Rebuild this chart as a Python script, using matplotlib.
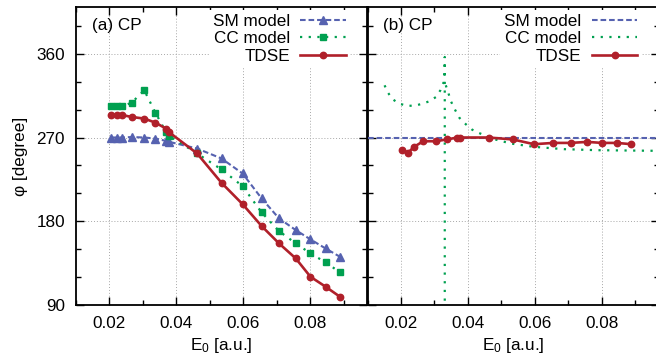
import numpy as np
import matplotlib
matplotlib.use("Agg")
import matplotlib.pyplot as plt

plt.rcParams['font.family'] = ['Liberation Sans', 'DejaVu Sans']
plt.rcParams['mathtext.default'] = 'regular'

# ---------------- data ----------------
E0 = [0.0204, 0.0222, 0.0239, 0.0267, 0.0304, 0.0337, 0.0369, 0.0377, 0.0462,
      0.0535, 0.0598, 0.0655, 0.0707, 0.0757, 0.0801, 0.0846, 0.0889]

sm_a = [270, 270, 270, 270.5, 270, 268.9, 266.4, 265.5, 258.2, 247.5, 231.4,
        204.6, 183.2, 170.7, 160.7, 151, 142.1]
cc_a = [303.5, 303.5, 303.5, 307.5, 320.7, 296.8, 276, 272, 252.9, 235.7,
        217.8, 189.6, 169.6, 156.4, 145.7, 136.1, 125.4]
tdse_a = [294, 294, 294, 292, 290.3, 286, 279.6, 276, 252.9, 221.4, 198.5,
          175, 156.4, 140.3, 120.6, 110, 99.2]

tdse_b = [256.4, 253.9, 260, 266, 266, 267.9, 270, 270, 270, 267.9, 262.8,
          264.2, 264.2, 265.3, 264.2, 264.2, 262.8]

sm_b_E = [0.005, 0.1]
sm_b = [270, 270]

# CC model (b): branch left of the pole (ends with the wrap below the axis)
cc_b_left_E = [0.0151, 0.0161, 0.0175, 0.0195, 0.0218, 0.0243, 0.0266, 0.0285,
               0.0305, 0.0318, 0.0328, 0.0330, 0.0331, 0.0331]
cc_b_left = [326, 318.2, 311, 306.4, 303.9, 304.3, 306.4, 308.9,
             313.5, 320.7, 329.6, 338.6, 356.4, 0]
# CC model (b): branch right of the pole
cc_b_right_E = [0.0334, 0.0341, 0.0348, 0.0355, 0.0364, 0.0375, 0.0394, 0.0412,
                0.0432, 0.0482, 0.0528, 0.0597, 0.0687, 0.0787, 0.0970, 0.1]
cc_b_right = [326, 318.9, 310, 304.6, 298.2, 291, 284.2, 278.6,
              275, 267.9, 263.6, 260, 257.5, 256.4, 255.7, 255.7]

xticks = [0.02, 0.04, 0.06, 0.08]
xticklabels = ['0.02', '0.04', '0.06', '0.08']
yticks = [90, 180, 270, 360]
yticklabels = ['90', '180', '270', '360']

# ---------------- style ----------------
C_SM = '#5662b0'
C_CC = '#00a050'
C_TD = '#b0202a'
FS = 12.3
DASH = (0, (2.7, 1.4))
DOT = (0, (1, 2.9))

W, H = 656, 360
fig = plt.figure(figsize=(W / 100, H / 100), dpi=100)

bottom = 1 - 305.3 / H
top = 1 - 7 / H
axw = 291 / W
ax1 = fig.add_axes([76 / W, bottom, axw, top - bottom])
ax2 = fig.add_axes([367.5 / W, bottom, axw, top - bottom])

for ax in (ax1, ax2):
    ax.set_xlim(0.01, 0.097)
    ax.set_ylim(90, 410)
    ax.set_xticks(xticks)
    ax.set_xticklabels(xticklabels)
    ax.set_xticks(np.arange(0.01, 0.0971, 0.01), minor=True)
    ax.set_yticks(yticks)
    ax.set_yticks(np.arange(90, 411, 30), minor=True)
    ax.tick_params(which='both', direction='in', top=True, right=True,
                   labelsize=FS, pad=8, width=1.0)
    ax.tick_params(which='major', length=6)
    ax.tick_params(which='minor', length=3.5)
    ax.grid(True, which='major', color='#a8a8a8', linestyle=(0, (1, 2)),
            linewidth=0.7)
    for s in ax.spines.values():
        s.set_linewidth(1.3)
    ax.set_xlabel(r'E$_0$ [a.u.]', fontsize=FS, labelpad=3)
    ax.set_axisbelow(True)

ax1.set_yticklabels(yticklabels)
ax2.set_yticklabels([])
ax1.set_ylabel(r'φ [degree]', fontsize=FS, labelpad=6)

# panel (a)
ax1.plot(E0, sm_a, color=C_SM, linestyle=DASH, lw=1.5, marker='^', ms=6,
         mfc=C_SM, mec=C_SM, label='SM model', zorder=3)
ax1.plot(E0, cc_a, color=C_CC, linestyle=DOT, lw=1.6, marker='s', ms=5,
         mfc=C_CC, mec=C_CC, label='CC model', zorder=3)
ax1.plot(E0, tdse_a, color=C_TD, linestyle='-', lw=1.9, marker='o', ms=4.6,
         mfc=C_TD, mec=C_TD, label='TDSE', zorder=4)

# panel (b)
ax2.plot(sm_b_E, sm_b, color=C_SM, linestyle=DASH, lw=1.5, label='SM model',
         zorder=3)
ax2.plot(cc_b_left_E, cc_b_left, color=C_CC, linestyle=DOT, lw=1.6,
         label='CC model', zorder=3)
ax2.plot(cc_b_right_E, cc_b_right, color=C_CC, linestyle=DOT, lw=1.6,
         zorder=3)
ax2.plot(E0, tdse_b, color=C_TD, linestyle='-', lw=1.9, marker='o', ms=4.6,
         mfc=C_TD, mec=C_TD, label='TDSE', zorder=4)

ax1.text(0.054, 0.962, '(a) CP', transform=ax1.transAxes, fontsize=FS,
         va='top', ha='left')
ax2.text(0.054, 0.962, '(b) CP', transform=ax2.transAxes, fontsize=FS,
         va='top', ha='left')

for ax in (ax1, ax2):
    leg = ax.legend(loc='upper right', bbox_to_anchor=(1 - 17 / 291, 0.99),
                    markerfirst=False, fontsize=FS, handlelength=2.65,
                    handletextpad=0.6, labelspacing=0.13, borderpad=0.25,
                    borderaxespad=0, frameon=True, fancybox=False,
                    framealpha=1, numpoints=1)
    leg.get_frame().set_edgecolor('none')
    leg.get_frame().set_facecolor('white')
    leg.set_zorder(10)

fig.savefig('out.png', dpi=100)
